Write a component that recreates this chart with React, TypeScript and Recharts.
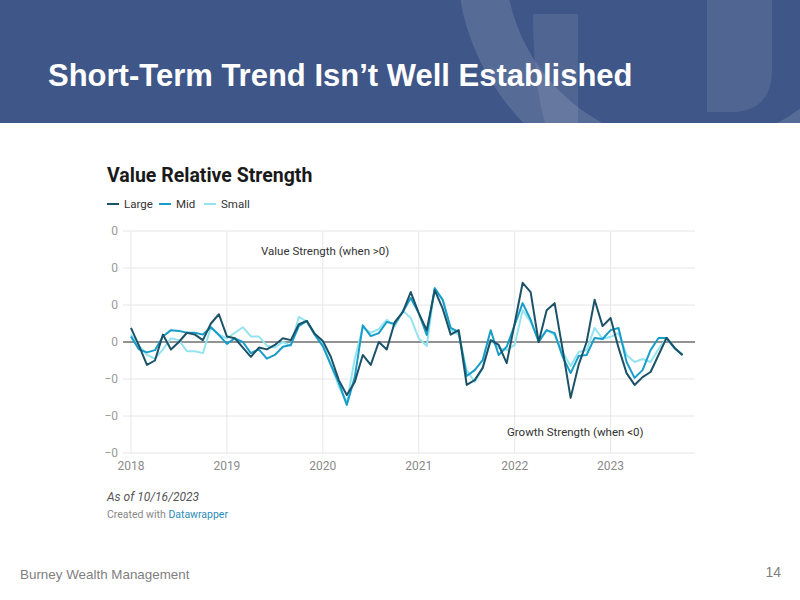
import React from "react";
import { LineChart, Line, XAxis, YAxis, CartesianGrid, ReferenceLine } from "recharts";

// monthly readings, Jan 2018 .. Oct 2023
const START_YEAR = 2018;

const large = [
  0.038, -0.01, -0.062, -0.05, 0.02, -0.02, 0.0, 0.025, 0.02, 0.005, 0.05, 0.075,
  0.015, 0.01, -0.015, -0.04, -0.015, -0.02, -0.008, 0.01, 0.005, 0.048, 0.057, 0.022,
  0.003, -0.04, -0.103, -0.143, -0.108, -0.035, -0.062, 0.0, -0.02, 0.054, 0.081, 0.135,
  0.078, 0.032, 0.14, 0.09, 0.02, 0.032, -0.116, -0.103, -0.07, 0.005, -0.008, -0.057,
  0.05, 0.16, 0.135, 0.0, 0.086, 0.105, -0.02, -0.151, -0.062, 0.0, 0.114, 0.043,
  0.065, -0.016, -0.084, -0.116, -0.095, -0.081, -0.035, 0.011, -0.016, -0.035,
];

const mid = [
  0.015, -0.02, -0.028, -0.022, 0.015, 0.032, 0.03, 0.025, 0.025, 0.02, 0.04, 0.019,
  -0.005, 0.01, 0.0, -0.03, -0.02, -0.045, -0.035, -0.013, -0.008, 0.043, 0.057, 0.019,
  -0.011, -0.062, -0.11, -0.17, -0.095, 0.045, 0.016, 0.024, 0.054, 0.049, 0.081, 0.119,
  0.078, 0.019, 0.145, 0.114, 0.038, 0.027, -0.092, -0.076, -0.049, 0.032, -0.035, -0.013,
  0.046, 0.105, 0.06, 0.0, 0.032, 0.024, -0.04, -0.084, -0.038, -0.035, 0.011, 0.008,
  0.032, 0.038, -0.054, -0.097, -0.076, -0.022, 0.011, 0.011, -0.016, -0.035,
];

const small = [
  0.02, -0.01, -0.035, -0.045, -0.02, 0.01, 0.005, -0.025, -0.025, -0.03, 0.04, 0.02,
  0.01, 0.025, 0.04, 0.015, 0.015, -0.01, -0.015, 0.0, -0.01, 0.068, 0.055, 0.02,
  -0.005, -0.06, -0.12, -0.165, -0.045, 0.04, 0.025, 0.035, 0.06, 0.042, 0.085, 0.065,
  0.01, -0.011, 0.146, 0.114, 0.032, 0.019, -0.076, -0.108, -0.07, 0.005, -0.016, -0.022,
  -0.008, 0.086, 0.054, 0.005, 0.032, 0.019, -0.027, -0.065, -0.027, -0.022, 0.038, 0.008,
  0.014, 0.024, -0.035, -0.054, -0.046, -0.054, -0.019, 0.011, -0.016, -0.035,
];

const yearTicks = [2018, 2019, 2020, 2021, 2022, 2023];
const yTicks = [-0.3, -0.2, -0.1, 0, 0.1, 0.2, 0.3];

const seriesNames = ["Large", "Mid", "Small"];
const COLORS = { Large: "#1b5268", Mid: "#189dc9", Small: "#93e4ef" };

const data = large.map((v, i) => ({
  t: START_YEAR + i / 12,
  large: v,
  mid: mid[i],
  small: small[i],
}));

const ROBOTO = "Roboto, 'Noto Sans', sans-serif";
const ARIAL = "'Liberation Sans', Arial, sans-serif";
const AXIS_TICK = { fill: "#9a9a9a", fontSize: 12, fontFamily: ROBOTO };
const GRID = "#e6e6e6";

export default function App() {
  return (
    <div style={{ position: "absolute", left: 0, top: 0, width: 800, height: 600, background: "#fff", overflow: "hidden" }}>
      {/* header band */}
      <svg width={800} height={123} style={{ position: "absolute", left: 0, top: 0 }}>
        <rect x={0} y={0} width={800} height={123} fill="#3f5688" />
        <circle cx={690} cy={-40} r={209} fill="none" stroke="rgba(255,255,255,0.13)" strokeWidth={48} />
        <path d="M533,14 L578,14 L578,123 L545,123 Q533,80 533,14 Z" fill="rgba(255,255,255,0.09)" />
        <path d="M707,0 L772,0 L772,70 Q772,112 730,112 L707,112 Z" fill="rgba(255,255,255,0.09)" />
        <text x={48} y={86} fill="#fff" fontFamily={ARIAL} fontWeight={700} fontSize={31}>
          Short-Term Trend Isn’t Well Established
        </text>
      </svg>

      <div style={{ position: "absolute", left: 0, top: 0 }}>
        <LineChart width={800} height={600} data={data} margin={{ top: 231, right: 105, bottom: 117, left: 100 }}>
          <CartesianGrid stroke={GRID} vertical={false} />
          {yearTicks.map((yr) => (
            <ReferenceLine key={yr} x={yr} stroke={GRID} strokeWidth={1} />
          ))}
          <XAxis
            type="number"
            dataKey="t"
            domain={[2017.917, 2023.88]}
            ticks={yearTicks}
            axisLine={false}
            tickLine={false}
            tickSize={0}
            tickMargin={8}
            height={30}
            tick={{ ...AXIS_TICK, fill: "#8a8a8a" }}
          />
          <YAxis
            type="number"
            domain={[-0.3, 0.3]}
            ticks={yTicks}
            width={23}
            axisLine={false}
            tickLine={false}
            tickSize={0}
            tickMargin={5}
            tick={AXIS_TICK}
            tickFormatter={(v: number) => (v < 0 ? "\u22120" : "0")}
          />
          <ReferenceLine y={0} stroke="#333" strokeWidth={1} />
          <Line dataKey="small" stroke={COLORS.Small} strokeWidth={2} dot={false} isAnimationActive={false} strokeLinejoin="round" />
          <Line dataKey="mid" stroke={COLORS.Mid} strokeWidth={2} dot={false} isAnimationActive={false} strokeLinejoin="round" />
          <Line dataKey="large" stroke={COLORS.Large} strokeWidth={2} dot={false} isAnimationActive={false} strokeLinejoin="round" />
        </LineChart>
      </div>

      {/* chart texts */}
      <svg width={800} height={600} style={{ position: "absolute", left: 0, top: 0, pointerEvents: "none" }}>
        <text x={107} y={182} fill="#1a1a1a" fontFamily={ROBOTO} fontWeight={700} fontSize={19.5}>
          Value Relative Strength
        </text>
        {seriesNames.map((name, i) => {
          const x = [107, 159, 204][i];
          return (
            <g key={name}>
              <line x1={x} x2={x + 12} y1={204} y2={204} stroke={COLORS[name as keyof typeof COLORS]} strokeWidth={2} />
              <text x={x + 17} y={208} fill="#333" fontFamily={ROBOTO} fontSize={11.5}>{name}</text>
            </g>
          );
        })}
        <text x={261} y={255} fill="#333" fontFamily={ROBOTO} fontSize={11.5}>Value Strength (when &gt;0)</text>
        <text x={507} y={436} fill="#333" fontFamily={ROBOTO} fontSize={11.5}>Growth Strength (when &lt;0)</text>
        <text x={107} y={501} fill="#555" fontFamily={ROBOTO} fontStyle="italic" fontSize={12}>As of 10/16/2023</text>
        <text x={107} y={518} fill="#888" fontFamily={ROBOTO} fontSize={10.5}>
          Created with <tspan fill="#2c8cb8">Datawrapper</tspan>
        </text>
        <text x={20} y={579} fill="#7f7f7f" fontFamily={ARIAL} fontSize={13.4}>Burney Wealth Management</text>
        <text x={781} y={577} fill="#7f7f7f" fontFamily={ARIAL} fontSize={14} textAnchor="end">14</text>
      </svg>
    </div>
  );
}
